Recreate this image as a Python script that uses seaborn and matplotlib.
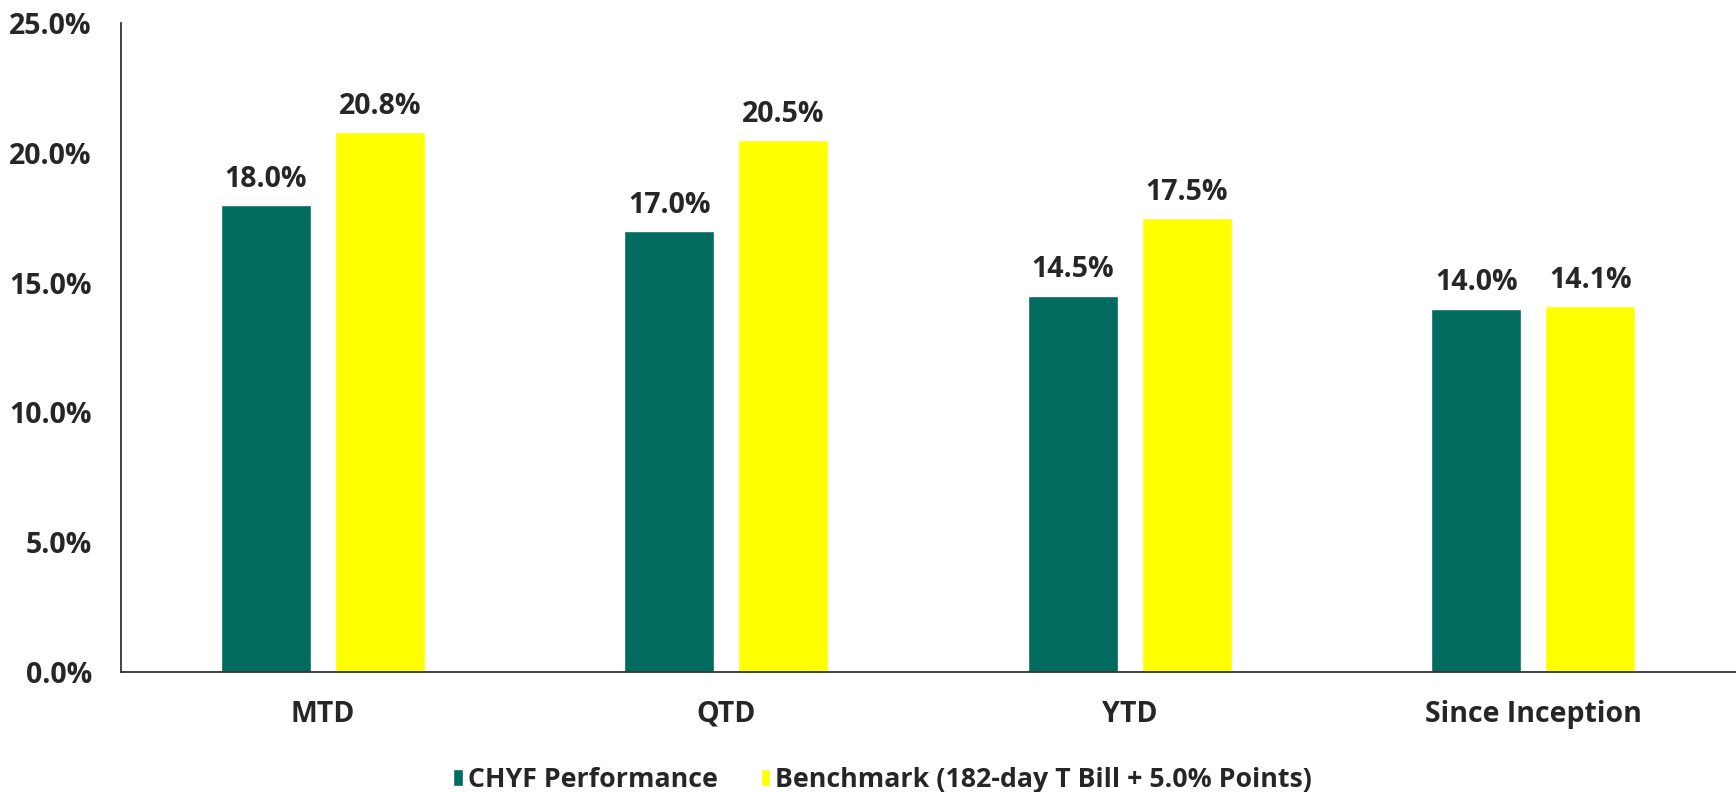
import pandas as pd
import matplotlib.pyplot as plt
import seaborn as sns
from matplotlib.ticker import FuncFormatter

categories = ['MTD', 'QTD', 'YTD', 'Since Inception']
series_names = ['CHYF Performance', 'Benchmark (182-day T Bill + 5.0% Points)']
chyf_values = [18.0, 17.0, 14.5, 14.0]
benchmark_values = [20.8, 20.5, 17.5, 14.1]
colors = ['#006B5E', '#FFFF00']

df = pd.DataFrame({
    'period': categories * 2,
    'series': [series_names[0]] * 4 + [series_names[1]] * 4,
    'value': chyf_values + benchmark_values,
})

sns.set_style('white')
plt.rcParams['font.family'] = ['Open Sans', 'DejaVu Sans']
plt.rcParams['font.weight'] = 'bold'

fig = plt.figure(figsize=(17.36, 7.92), dpi=100)
ax = fig.add_axes([0.0697, 0.1515, 0.9297, 0.8195])

sns.barplot(data=df, x='period', y='value', hue='series', palette=colors,
            width=0.565, gap=0.21, saturation=1, ax=ax, legend=True)

# data labels
for container in ax.containers:
    ax.bar_label(container, fmt='%.1f%%', padding=8, fontsize=20.5, fontweight='bold')

ax.set_ylim(0, 25)
ax.set_xlim(-0.5, 3.5)
ax.set_yticks([0, 5, 10, 15, 20, 25])
ax.yaxis.set_major_formatter(FuncFormatter(lambda v, p: f'{v:.1f}%'))
ax.set_xlabel('')
ax.set_ylabel('')
ax.tick_params(axis='y', labelsize=20.5, length=0, pad=21)
ax.tick_params(axis='x', labelsize=20.5, length=0, pad=20)
for lab in ax.get_xticklabels() + ax.get_yticklabels():
    lab.set_fontweight('bold')

sns.despine(ax=ax, top=True, right=True)
ax.spines['left'].set_color('#333333')
ax.spines['bottom'].set_color('#333333')
ax.spines['left'].set_linewidth(1.3)
ax.spines['bottom'].set_linewidth(1.3)

handles, labels = ax.get_legend_handles_labels()
ax.legend(handles, labels, loc='center', bbox_to_anchor=(0.472, -0.166), ncol=2,
          frameon=False, handlelength=0.35, handleheight=0.6,
          handletextpad=0.2, columnspacing=1.6, prop={'weight': 'bold', 'size': 19.3})

plt.savefig('out.png', dpi=100)
